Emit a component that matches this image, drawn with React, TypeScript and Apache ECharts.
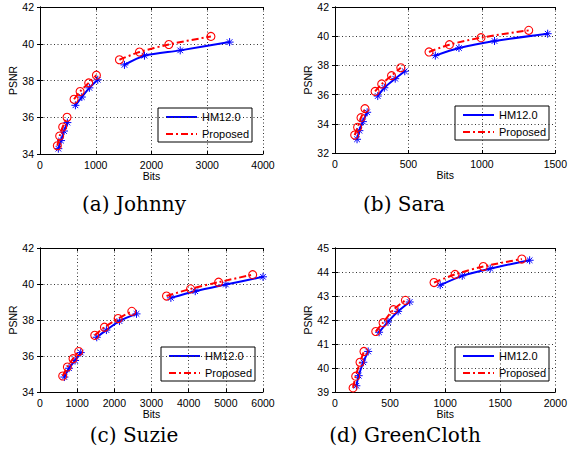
import React, { useEffect, useRef } from 'react';
import * as echarts from 'echarts';

const captions = ['(a) Johnny', '(b) Sara', '(c) Suzie', '(d) GreenCloth'];
const xRanges = [[0, 4000, 1000], [0, 1500, 500], [0, 6000, 1000], [0, 2000, 500]];
const yRanges = [[34, 42, 2], [32, 42, 2], [34, 42, 2], [39, 45, 1]];
const legendNames = ['HM12.0', 'Proposed'];
const xName = 'Bits';
const yName = 'PSNR';

const johnnyHM = [
  [[329, 34.29], [377, 34.73], [431, 35.25], [491, 35.71]],
  [[635, 36.65], [750, 37.1], [886, 37.6], [1036, 38.04]],
  [[1515, 38.85], [1874, 39.35], [2515, 39.64], [3401, 40.09]],
];
const johnnyProposed = [
  [[311, 34.45], [353, 34.98], [407, 35.47], [485, 36.0]],
  [[611, 36.98], [719, 37.4], [874, 37.87], [1012, 38.29]],
  [[1425, 39.13], [1784, 39.55], [2311, 39.96], [3066, 40.4]],
];
const saraHM = [
  [[150, 32.94], [166, 33.53], [190, 34.15], [219, 34.79]],
  [[291, 35.9], [336, 36.47], [410, 37.09], [475, 37.6]],
  [[683, 38.67], [844, 39.19], [1086, 39.67], [1448, 40.17]],
];
const saraProposed = [
  [[134, 33.23], [154, 33.76], [177, 34.42], [204, 35.04]],
  [[273, 36.22], [318, 36.73], [385, 37.3], [448, 37.84]],
  [[640, 38.92], [779, 39.42], [994, 39.9], [1319, 40.4]],
];
const suzieHM = [
  [[656, 34.83], [781, 35.32], [943, 35.75], [1096, 36.19]],
  [[1527, 37.04], [1787, 37.44], [2138, 37.94], [2596, 38.34]],
  [[3521, 39.23], [4177, 39.6], [5003, 39.97], [6000, 40.4]],
];
const suzieProposed = [
  [[611, 34.89], [737, 35.39], [889, 35.85], [1042, 36.25]],
  [[1473, 37.15], [1734, 37.6], [2102, 38.08], [2470, 38.48]],
  [[3404, 39.33], [4051, 39.73], [4805, 40.1], [5722, 40.52]],
];
const greenClothHM = [
  [[194, 39.26], [215, 39.68], [257, 40.24], [301, 40.69]],
  [[400, 41.49], [481, 41.92], [573, 42.36], [678, 42.75]],
  [[955, 43.45], [1155, 43.84], [1409, 44.14], [1767, 44.49]],
];
const greenClothProposed = [
  [[164, 39.17], [188, 39.66], [227, 40.24], [263, 40.69]],
  [[370, 41.52], [436, 41.89], [531, 42.43], [639, 42.82]],
  [[899, 43.56], [1090, 43.9], [1346, 44.23], [1696, 44.54]],
];

const hmSets = [johnnyHM, saraHM, suzieHM, greenClothHM];
const proposedSets = [johnnyProposed, saraProposed, suzieProposed, greenClothProposed];

// layout
const grids = [
  { left: 40, top: 7, width: 223, height: 147 },
  { left: 335, top: 7, width: 223, height: 146 },
  { left: 40, top: 248, width: 223, height: 144 },
  { left: 335, top: 248, width: 223, height: 144 },
];
const legendPos = [[158, 108], [455, 106], [161, 347], [455, 347]];
const captionPos = [[134, 204], [404, 204], [134, 435], [405, 435]];

const BLUE = '#0000ff';
const RED = '#ff0000';
const SANS = '"Liberation Sans", Arial, Helvetica, sans-serif';
const STAR = 'path://M5,0L5,10M0,5L10,5M1.5,1.5L8.5,8.5M8.5,1.5L1.5,8.5';
const DASHDOT = [7, 3, 2, 3];

export default function App() {
  const ref = useRef<HTMLDivElement>(null);
  useEffect(() => {
    if (!ref.current) return;
    const chart = echarts.init(ref.current, null, { renderer: 'svg' });
    const xAxis: any[] = [];
    const yAxis: any[] = [];
    const series: any[] = [];
    const graphic: any[] = [];
    const fmt = (v: number) => String(v);
    grids.forEach((g, i) => {
      const [xmin, xmax, xint] = xRanges[i];
      const [ymin, ymax, yint] = yRanges[i];
      const common = {
        axisLine: { show: true, lineStyle: { color: '#000', width: 1 } },
        axisTick: { show: true, inside: true, length: 3, lineStyle: { color: '#000' } },
      };
      xAxis.push({
        gridIndex: i, type: 'value', min: xmin, max: xmax, interval: xint, position: 'bottom',
        name: xName, nameLocation: 'middle', nameGap: 16,
        nameTextStyle: { fontFamily: SANS, fontSize: 10.5, color: '#000' },
        axisLabel: { fontFamily: SANS, fontSize: 10.5, color: '#000', margin: 5, formatter: fmt },
        splitLine: { show: true, lineStyle: { color: '#333', type: [1, 2.5], width: 1 } },
        ...common,
      });
      xAxis.push({
        gridIndex: i, type: 'value', min: xmin, max: xmax, interval: xint, position: 'top',
        axisLabel: { show: false }, splitLine: { show: false }, ...common,
      });
      yAxis.push({
        gridIndex: i, type: 'value', min: ymin, max: ymax, interval: yint, position: 'left',
        name: yName, nameLocation: 'middle', nameGap: 21,
        nameTextStyle: { fontFamily: SANS, fontSize: 10.5, color: '#000' },
        axisLabel: { fontFamily: SANS, fontSize: 10.5, color: '#000', margin: 6, formatter: fmt },
        splitLine: { show: true, lineStyle: { color: '#333', type: [1, 2.5], width: 1 } },
        ...common,
      });
      yAxis.push({
        gridIndex: i, type: 'value', min: ymin, max: ymax, interval: yint, position: 'right',
        axisLabel: { show: false }, splitLine: { show: false }, ...common,
      });
      hmSets[i].forEach((seg) => {
        series.push({
          type: 'line', name: legendNames[0], xAxisIndex: 2 * i, yAxisIndex: 2 * i,
          data: seg, smooth: 0.3, clip: false,
          symbol: STAR, symbolSize: 8,
          itemStyle: { color: 'rgba(0,0,0,0)', borderColor: BLUE, borderWidth: 1 },
          lineStyle: { color: BLUE, width: 2 },
          z: 2,
        });
      });
      proposedSets[i].forEach((seg) => {
        series.push({
          type: 'line', name: legendNames[1], xAxisIndex: 2 * i, yAxisIndex: 2 * i,
          data: seg, smooth: 0.3, clip: false,
          symbol: 'circle', symbolSize: 8,
          itemStyle: { color: 'rgba(0,0,0,0)', borderColor: RED, borderWidth: 1.1 },
          lineStyle: { color: RED, width: 2, type: DASHDOT },
          z: 3,
        });
      });
      const [lx, ly] = legendPos[i];
      graphic.push({
        type: 'group', z: 100,
        children: [
          { type: 'rect', shape: { x: lx, y: ly, width: 94, height: 34 }, style: { fill: '#fff', stroke: '#000', lineWidth: 1 } },
          { type: 'line', shape: { x1: lx + 8, y1: ly + 9, x2: lx + 39, y2: ly + 9 }, style: { stroke: BLUE, lineWidth: 2 } },
          { type: 'text', x: lx + 44, y: ly + 9, style: { text: legendNames[0], fontFamily: SANS, fontSize: 11, fill: '#000', verticalAlign: 'middle' } },
          { type: 'line', shape: { x1: lx + 8, y1: ly + 26, x2: lx + 39, y2: ly + 26 }, style: { stroke: RED, lineWidth: 2, lineDash: DASHDOT } },
          { type: 'text', x: lx + 44, y: ly + 26, style: { text: legendNames[1], fontFamily: SANS, fontSize: 11, fill: '#000', verticalAlign: 'middle' } },
        ],
      });
      const [cx, cy] = captionPos[i];
      graphic.push({
        type: 'text', x: cx, y: cy,
        style: { text: captions[i], fontFamily: '"DejaVu Serif", serif', fontSize: 20, fill: '#000', align: 'center', verticalAlign: 'middle' },
      });
    });
    chart.setOption({
      animation: false,
      backgroundColor: '#fff',
      grid: grids.map((g) => ({ ...g, show: false, containLabel: false })),
      xAxis, yAxis, series, graphic,
    });
    return () => chart.dispose();
  }, []);
  return <div ref={ref} style={{ position: 'fixed', left: 0, top: 0, width: 570, height: 459 }} />;
}
